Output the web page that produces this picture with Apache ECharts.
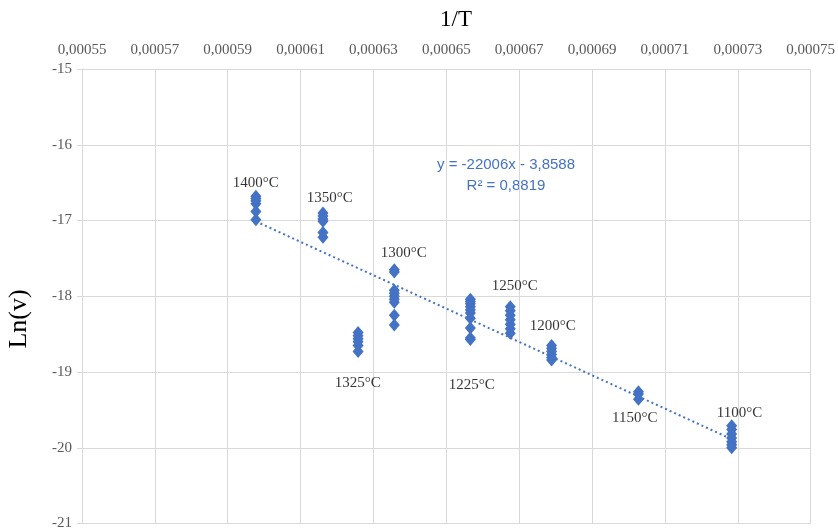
<!DOCTYPE html>
<html>
<head>
<meta charset="utf-8">
<script src="https://cdn.jsdelivr.net/npm/echarts@6/dist/echarts.min.js"></script>
<style>html,body{margin:0;padding:0;background:#fff}#c{width:838px;height:531px}</style>
</head>
<body>
<div id="c"></div>
<script>
// Temperatures (°C) of each measurement series
const temps = [1400, 1350, 1325, 1300, 1250, 1225, 1200, 1150, 1100];
// Ln(v) values, one list per temperature
const ln1400 = [-16.68, -16.71, -16.74, -16.78, -16.88, -16.99];
const ln1350 = [-16.90, -16.94, -16.98, -17.01, -17.16, -17.22];
const ln1325 = [-18.48, -18.52, -18.56, -18.60, -18.65, -18.73];
const ln1300 = [-17.65, -17.68, -17.92, -17.96, -18.00, -18.04, -18.08, -18.25, -18.38];
const ln1250 = [-18.04, -18.07, -18.10, -18.14, -18.18, -18.22, -18.29, -18.42, -18.55, -18.57];
const ln1225 = [-18.14, -18.19, -18.25, -18.31, -18.37, -18.43, -18.49];
const ln1200 = [-18.65, -18.69, -18.73, -18.77, -18.81, -18.84];
const ln1150 = [-19.26, -19.29, -19.36];
const ln1100 = [-19.71, -19.76, -19.82, -19.87, -19.92, -19.96, -20.00];
const lnSets = [ln1400, ln1350, ln1325, ln1300, ln1250, ln1225, ln1200, ln1150, ln1100];

// Trendline coefficients (as shown on the chart)
const slope = -22006;
const intercept = -3.8588;
const eqText = 'y = -22006x - 3,8588';
const r2Text = 'R² = 0,8819';

// Temperature annotations: [text, 1/T position, Ln(v) position]
const tempLabels = [
  ['1400°C', 0.0005977, -16.50],
  ['1350°C', 0.0006180, -16.70],
  ['1300°C', 0.0006383, -17.43],
  ['1325°C', 0.0006257, -19.14],
  ['1225°C', 0.0006570, -19.17],
  ['1250°C', 0.0006688, -17.87],
  ['1200°C', 0.0006792, -18.39],
  ['1150°C', 0.0007017, -19.61],
  ['1100°C', 0.0007305, -19.54]
];

// Axis ticks
const xTicks = [0.00055, 0.00057, 0.00059, 0.00061, 0.00063, 0.00065, 0.00067, 0.00069, 0.00071, 0.00073, 0.00075];
const yMin = -21, yMax = -15, yStep = 1;

const invT = temps.map(t => 1 / (t + 273));
const points = [];
temps.forEach((t, i) => lnSets[i].forEach(v => points.push([invT[i], v])));
const xLo = Math.max(...invT) , xHi = Math.min(...invT);
const trend = [xHi, xLo].map(x => [x, slope * x + intercept]);

const serif = 'Liberation Serif';
const chart = echarts.init(document.getElementById('c'), null, {renderer: 'canvas'});
chart.setOption({
  animation: false,
  backgroundColor: '#fff',
  grid: {left: 82, right: 27, top: 69, bottom: 6, containLabel: false},
  xAxis: {
    type: 'value', position: 'top',
    min: xTicks[0], max: xTicks[xTicks.length - 1],
    axisLine: {show: true, lineStyle: {color: '#d9d9d9', width: 1}},
    axisTick: {show: true, inside: true, length: 4, lineStyle: {color: '#d9d9d9'}, customValues: xTicks},
    axisLabel: {customValues: xTicks, margin: 11, color: '#595959', fontFamily: serif, fontSize: 15,
      formatter: v => v.toFixed(5).replace('.', ',')},
    splitLine: {show: true, lineStyle: {color: '#d9d9d9', width: 1}, customValues: xTicks}
  },
  yAxis: {
    type: 'value', min: yMin, max: yMax, interval: yStep,
    axisLine: {show: true, onZero: false, lineStyle: {color: '#d9d9d9', width: 1}},
    axisTick: {show: true, inside: false, length: 5, lineStyle: {color: '#d9d9d9'}},
    axisLabel: {margin: 10, color: '#595959', fontFamily: serif, fontSize: 15, formatter: v => String(v)},
    splitLine: {show: true, lineStyle: {color: '#d9d9d9', width: 1}}
  },
  graphic: [
    {type: 'text', left: 440, top: 8, style: {text: '1/T', font: '23px ' + serif, fill: '#000'}},
    {type: 'text', x: 19, y: 319, rotation: Math.PI / 2, style: {text: 'Ln(v)', font: '26px ' + serif, fill: '#000', align: 'center', verticalAlign: 'middle'}},
    {type: 'text', x: 506, y: 165, style: {text: eqText, font: '15px "Liberation Sans"', fill: '#4472C4', align: 'center', verticalAlign: 'middle'}},
    {type: 'text', x: 506, y: 186, style: {text: r2Text, font: '15px "Liberation Sans"', fill: '#4472C4', align: 'center', verticalAlign: 'middle'}}
  ],
  series: [
    {
      type: 'line', data: trend, showSymbol: false, symbol: 'none', silent: true, z: 1,
      lineStyle: {color: '#4472C4', width: 2, type: [2, 3]}
    },
    {
      type: 'scatter', data: points, symbol: 'diamond', symbolSize: [11, 13], z: 3,
      itemStyle: {color: '#4472C4', opacity: 1}
    },
    {
      type: 'scatter', symbolSize: 0, silent: true, z: 4,
      data: tempLabels.map(l => ({name: l[0], value: [l[1], l[2]]})),
      label: {show: true, position: 'inside', formatter: p => p.name, color: '#000', fontFamily: serif, fontSize: 15}
    }
  ]
});
</script>
</body>
</html>
